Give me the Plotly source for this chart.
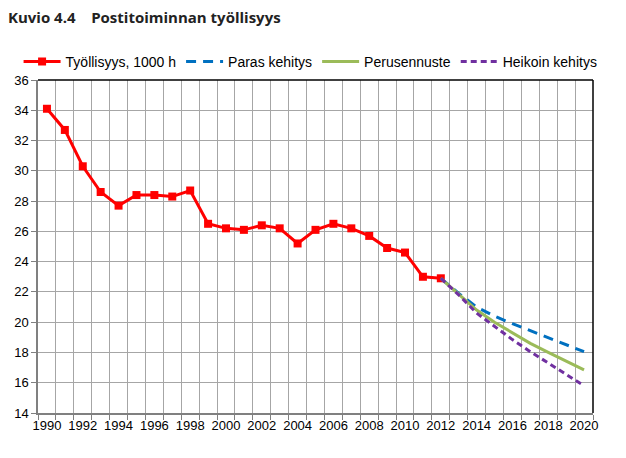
"""Postitoiminnan työllisyys 1990-2012 ja ennusteet 2020 asti"""
import plotly.graph_objects as go

# Toteutunut työllisyys
years = list(range(1990, 2013))
employment = [34.1, 32.7, 30.3, 28.6, 27.7, 28.4, 28.4, 28.3, 28.7, 26.5,
              26.2, 26.1, 26.4, 26.2, 25.2, 26.1, 26.5, 26.2, 25.7, 24.9,
              24.6, 23.0, 22.9]

# Ennusteet
forecast_years = list(range(2012, 2021))
best_case = [22.9, 21.9, 21.0, 20.4, 19.9, 19.45, 18.95, 18.5, 18.05]
base_case = [22.9, 21.85, 20.8, 20.0, 19.3, 18.6, 18.0, 17.4, 16.85]
worst_case = [22.9, 21.8, 20.6, 19.7, 18.85, 18.05, 17.3, 16.5, 15.8]

tick_years = list(range(1990, 2021, 2))

fig = go.Figure()

fig.add_trace(go.Scatter(
    x=years, y=employment, name="Työllisyys, 1000 h",
    mode="lines+markers",
    line=dict(color="#ff0000", width=3),
    marker=dict(symbol="square", size=8, color="#ff0000"),
))
fig.add_trace(go.Scatter(
    x=forecast_years, y=best_case, name="Paras kehitys",
    mode="lines", line=dict(color="#0070c0", width=3, dash="10px,7px"),
))
fig.add_trace(go.Scatter(
    x=forecast_years, y=base_case, name="Perusennuste",
    mode="lines", line=dict(color="#9bbb59", width=3),
))
fig.add_trace(go.Scatter(
    x=forecast_years, y=worst_case, name="Heikoin kehitys",
    mode="lines", line=dict(color="#7030a0", width=3, dash="6px,4px"),
))

# Ylä- ja oikea reuna mustana
fig.add_shape(type="line", xref="paper", yref="paper", x0=0, x1=1, y0=1, y1=1,
              line=dict(color="#000000", width=1.5))
fig.add_shape(type="line", xref="paper", yref="paper", x0=1, x1=1, y0=0, y1=1,
              line=dict(color="#000000", width=1.5))

# sivun oletusmarginaali (8 px) huomioitu koossa
fig.update_layout(
    width=618, height=450,
    margin=dict(l=30, r=33, t=72, b=45, autoexpand=False),
    paper_bgcolor="#ffffff",
    plot_bgcolor="#ffffff",
    font=dict(family="Liberation Sans, Arial, sans-serif", size=13, color="#000000"),
    title=dict(
        text="<b>Kuvio 4.4    Postitoiminnan työllisyys</b>",
        x=0, xanchor="left", y=0.99, yanchor="top", pad=dict(t=0, l=0),
        font=dict(family="Open Sans, sans-serif", size=15, color="#222222"),
    ),
    legend=dict(
        orientation="h", x=-0.035, xanchor="left", y=1.054, yanchor="middle",
        font=dict(size=14), itemwidth=37, bgcolor="rgba(0,0,0,0)",
    ),
    showlegend=True,
)

fig.update_xaxes(
    range=[1989.5, 2020.5], automargin=False,
    tickmode="array", tickvals=tick_years, ticktext=[str(y) for y in tick_years],
    ticks="", showgrid=False, zeroline=False,
    showline=True, linecolor="#808080", linewidth=1.5,
    minor=dict(tick0=1989.5, dtick=1, showgrid=True, gridcolor="#a6a6a6",
               gridwidth=1.2, ticks="outside", ticklen=5, tickcolor="#808080"),
)
fig.update_yaxes(
    range=[14, 36], dtick=2, automargin=False,
    ticks="outside", ticklen=5, tickcolor="#808080",
    showgrid=True, gridcolor="#a6a6a6", gridwidth=1.2, zeroline=False,
    showline=True, linecolor="#808080", linewidth=1.5,
)

fig.write_html("out.html")
